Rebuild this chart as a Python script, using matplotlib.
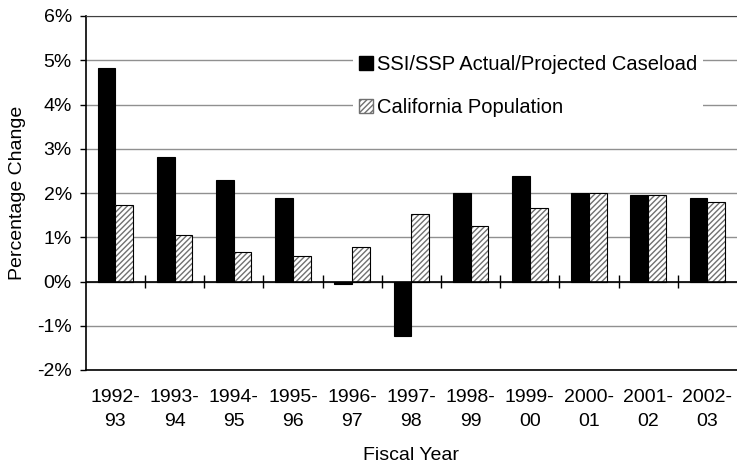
import matplotlib.pyplot as plt
import numpy as np

plt.rcParams['font.family'] = ['Liberation Sans', 'DejaVu Sans']
plt.rcParams['font.size'] = 14
plt.rcParams['hatch.linewidth'] = 1.0

years = ['1992-\n93', '1993-\n94', '1994-\n95', '1995-\n96', '1996-\n97', '1997-\n98',
         '1998-\n99', '1999-\n00', '2000-\n01', '2001-\n02', '2002-\n03']
ssi = [4.82, 2.81, 2.30, 1.89, -0.06, -1.23, 2.01, 2.39, 1.99, 1.96, 1.89]
pop = [1.72, 1.04, 0.66, 0.58, 0.77, 1.52, 1.25, 1.67, 1.99, 1.95, 1.80]

fig = plt.figure(figsize=(7.37, 4.66), dpi=100)
ax = fig.add_axes([85.7 / 737, 1 - 370 / 466, 1 - 85.7 / 737, 354 / 466])

x = np.arange(len(years))
w = 0.3

ax.bar(x - w / 2, ssi, w, color='black', edgecolor='black', linewidth=0.8, zorder=3)
# hatched bars: grey hatch on white, then black outline on top
ax.bar(x + w / 2, pop, w, color='white', edgecolor='#707070', hatch='//////',
       linewidth=0, zorder=3)
ax.bar(x + w / 2, pop, w, fill=False, edgecolor='black', linewidth=0.8, zorder=4)

# legend proxies
h1 = plt.Rectangle((0, 0), 1, 1, facecolor='black', edgecolor='black')
h2 = plt.Rectangle((0, 0), 1, 1, facecolor='white', edgecolor='#707070', hatch='//////')
leg = ax.legend([h1, h2], ['SSI/SSP Actual/Projected Caseload', 'California Population'],
                loc='upper left', bbox_to_anchor=(0.395, 0.935), frameon=True,
                fancybox=False, edgecolor='none', framealpha=1, fontsize=14.5,
                handlelength=0.7, handleheight=0.7, handletextpad=0.2,
                labelspacing=1.2, borderpad=0.3)
leg.set_zorder(5)

ax.set_xlim(-0.5, len(years) - 0.5)
ax.set_ylim(-2, 6)
ax.set_yticks(range(-2, 7))
ax.set_yticklabels([f'{v}%' for v in range(-2, 7)])
ax.yaxis.grid(True, color='#909090', linewidth=1)
ax.set_axisbelow(True)

ax.set_xticks(x)
ax.set_xticklabels(years, linespacing=1.5)
ax.tick_params(axis='x', length=0, pad=14)
ax.tick_params(axis='y', length=4, width=1, direction='out', colors='black', pad=6)

ax.spines['right'].set_visible(False)
ax.spines['top'].set_color('#404040')
ax.spines['left'].set_linewidth(1.2)
ax.spines['bottom'].set_linewidth(1.2)

# zero line with tick marks at category boundaries
ax.axhline(0, color='black', linewidth=1.2, zorder=5)
ax.vlines(x[:-1] + 0.5, -0.14, 0.14, color='black', linewidth=1, zorder=5)

ax.set_xlabel('Fiscal Year', labelpad=12)
ax.set_ylabel('Percentage Change', labelpad=8)

fig.savefig('out.png', dpi=100)
